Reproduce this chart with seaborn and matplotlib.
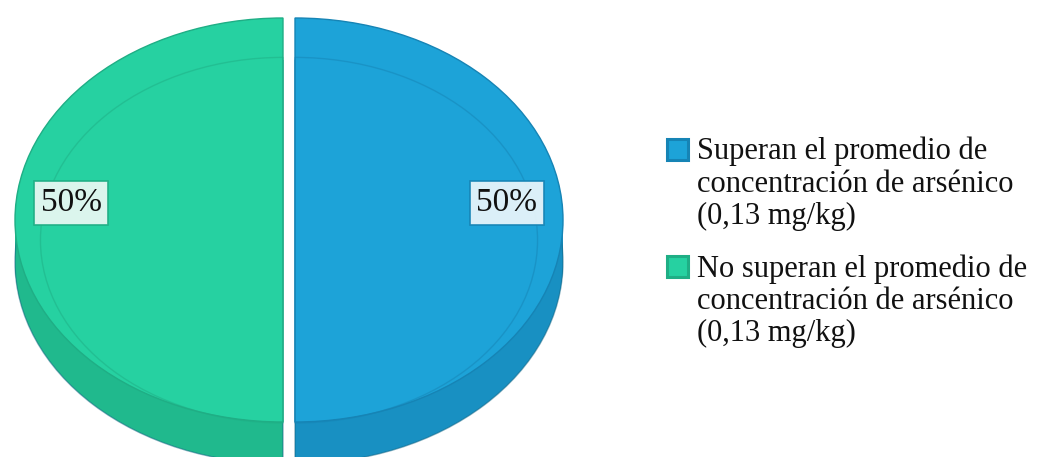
import matplotlib
matplotlib.use("Agg")
import matplotlib.pyplot as plt
from matplotlib.patches import Rectangle
import seaborn as sns

# ---- data ----
categories = [
    "Superan el promedio de\nconcentración de arsénico\n(0,13 mg/kg)",
    "No superan el promedio de\nconcentración de arsénico\n(0,13 mg/kg)",
]
values = [50, 50]

# ---- style ----
top_colors = ["#1DA3D8", "#26D1A1"]
side_colors = ["#1890C2", "#20B98D"]
edge_colors = ["#1684B5", "#1FAE85"]
box_faces = ["#E6F4FA", "#E6F8F2"]

sns.set_theme(style="white")
plt.rcParams["font.family"] = ["Liberation Serif", "DejaVu Serif"]

W, H = 1037, 457
fig = plt.figure(figsize=(W / 100, H / 100), dpi=100)
ax = fig.add_axes([0, 0, 1, 1])

# pixel geometry of the pie (ellipse)
cx_px, cy_px = 289, 220          # centre of top face (pixels from top-left)
rx_px, ry_px = 268, 202          # half axes
depth_px = 42

explode = [6 / rx_px] * len(values)
depth = depth_px / ry_px

# draw side (stacked copies of the pie, shifted downward)
n_stack = 30
for i in range(n_stack, 0, -1):
    ax.pie(values, colors=side_colors, startangle=90, counterclock=False,
           explode=explode, center=(0, -depth * i / n_stack), radius=1,
           wedgeprops=dict(linewidth=0))
# darker rim at the bottom of side
rim = ax.pie(values, startangle=90, counterclock=False,
             explode=explode, center=(0, -depth), radius=1,
             wedgeprops=dict(linewidth=1.0, fill=False))
for w in rim[0]:
    w.set_edgecolor((0.06, 0.38, 0.5, 0.5))

# top face
wedges, texts, autotexts = ax.pie(
    values, colors=top_colors, startangle=90, counterclock=False,
    explode=explode, center=(0, 0), radius=1,
    autopct="%1.0f%%", pctdistance=0.79,
    wedgeprops=dict(linewidth=1.0),
    textprops=dict(fontsize=24, color="#111111"),
)
for w, ec in zip(wedges, edge_colors):
    w.set_edgecolor(ec)

# subtle inner bevel line on the top face
inner = ax.pie(values, startangle=90, counterclock=False,
               explode=explode, center=(0, -0.1), radius=0.905,
               wedgeprops=dict(linewidth=1.0, fill=False))
for w, ec in zip(inner[0], edge_colors):
    w.set_edgecolor(ec)
    w.set_alpha(0.5)

for t, fc, ec in zip(autotexts, box_faces, edge_colors):
    x, y = t.get_position()
    t.set_position((x, y + 0.084))
    t.set_bbox(dict(boxstyle="square,pad=0.2", facecolor=fc, edgecolor=ec,
                    linewidth=1.2, alpha=0.95))

# map the unit circle onto the ellipse in pixel space
ax.set_aspect("auto")
ax.set_xlim(-cx_px / rx_px, (W - cx_px) / rx_px)
ax.set_ylim(-(H - cy_px) / ry_px, cy_px / ry_px)
ax.axis("off")

# ---- legend (square markers aligned with first text line) ----
leg_x_sq = 667 / W
leg_x_txt = 697 / W
entry_tops = [137, 254]
sq_offsets = [2, 2]
sq_size = 21
for lab, fc, ec, top, so in zip(categories, top_colors, edge_colors, entry_tops, sq_offsets):
    fig.patches.append(Rectangle((leg_x_sq, 1 - (top + so + sq_size) / H),
                                 sq_size / W, sq_size / H,
                                 transform=fig.transFigure, facecolor=fc,
                                 edgecolor=ec, linewidth=2.2))
    fig.text(leg_x_txt, 1 - top / H, lab, ha="left", va="top",
             fontsize=22, color="#111111", linespacing=1.15)

fig.savefig("out.png", dpi=100)
